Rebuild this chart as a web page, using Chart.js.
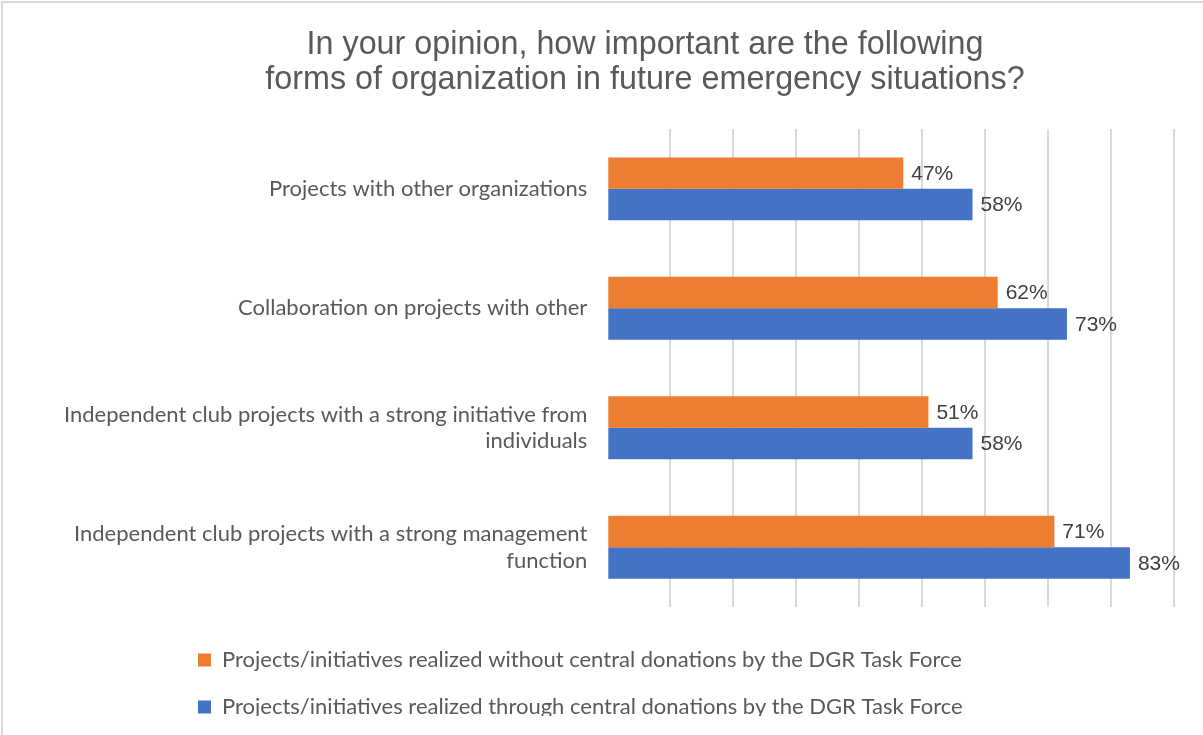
<!DOCTYPE html>
<html>
<head>
<meta charset="utf-8">
<script src="https://cdn.jsdelivr.net/npm/chart.js@4.4.1/dist/chart.umd.min.js"></script>
<style>
  html, body { margin: 0; padding: 0; background: #fff; overflow: hidden; }
  #wrap { position: absolute; left: 0; top: 0; width: 1290px; height: 716px; overflow: hidden; }
  #frame { position: absolute; left: 1px; top: 1px; width: 1400px; height: 800px;
           border-left: 2px solid #d9d9d9; border-top: 2px solid #d9d9d9; pointer-events: none; }
</style>
</head>
<body>
<div id="wrap"><canvas id="chart" width="1290" height="760"></canvas></div>
<div id="frame"></div>
<script>
// categories, top to bottom
const categories = [
    'Projects with other organizations',
    'Collaboration on projects with other',
    ['Independent club projects with a strong initiative from', 'individuals'],
    ['Independent club projects with a strong management', 'function']
];
const seriesNames = [
    'Projects/initiatives realized without central donations by the DGR Task Force',
    'Projects/initiatives realized through central donations by the DGR Task Force'
];
const withoutDonations = [47, 62, 51, 71];
const throughDonations = [58, 73, 58, 83];
const xTicks = [0, 10, 20, 30, 40, 50, 60, 70, 80, 90];

const titleLines = [
    'In your opinion, how important are the following',
    'forms of organization in future emergency situations?'
];

// value labels at the end of each bar
const barLabels = {
    id: 'barLabels',
    afterDatasetsDraw(chart) {
        const ctx = chart.ctx;
        ctx.save();
        ctx.font = '21px "Liberation Sans", Arial, sans-serif';
        ctx.fillStyle = '#404040';
        ctx.textAlign = 'left';
        ctx.textBaseline = 'middle';
        chart.data.datasets.forEach((ds, i) => {
            chart.getDatasetMeta(i).data.forEach((bar, j) => {
                ctx.fillText(ds.data[j] + '%', bar.x + 8, bar.y + 1);
            });
        });
        ctx.restore();
    }
};

// title and legend are not centred on the plot in the original
const boxShift = {
    id: 'boxShift',
    afterLayout(chart) {
        const t = chart.titleBlock;
        t.left = 116;
        t.right = 1174;
        const lg = chart.legend;
        const dx = 173 - lg.left;
        lg.left += dx;
        lg.right += dx;
    }
};

const ctx = document.getElementById('chart').getContext('2d');

new Chart(ctx, {
    type: 'bar',
    data: {
        labels: categories,
        datasets: [{
            label: seriesNames[0],
            data: withoutDonations,
            backgroundColor: '#ED7D31'
        }, {
            label: seriesNames[1],
            data: throughDonations,
            backgroundColor: '#4472C4'
        }]
    },
    options: {
        indexAxis: 'y',
        responsive: false,
        animation: false,
        categoryPercentage: 0.526,
        barPercentage: 1,
        layout: { padding: { left: 20, right: 116, top: 0, bottom: 32 } },
        scales: {
            x: {
                min: 0,
                max: 90,
                afterBuildTicks: (scale) => { scale.ticks = xTicks.map(v => ({ value: v })); },
                afterFit: (scale) => { scale.height = 17; },
                ticks: { display: false },
                border: { display: false },
                grid: {
                    drawTicks: false,
                    lineWidth: 2,
                    color: (c) => c.tick && c.tick.value === 0 ? 'rgba(0,0,0,0)' : '#d9d9d9'
                }
            },
            y: {
                afterFit: (scale) => { scale.width = 587.3; },
                border: { display: false },
                grid: { display: false, drawTicks: false },
                ticks: {
                    padding: 20,
                    color: '#595959',
                    font: { family: 'Lato, "Open Sans", sans-serif', size: 22, lineHeight: 1.2 }
                }
            }
        },
        plugins: {
            title: {
                display: true,
                text: titleLines,
                color: '#595959',
                font: { family: '"Liberation Sans", Arial, sans-serif', size: 32.3, weight: 'normal', lineHeight: 1.1 },
                padding: { top: 27, bottom: 31 }
            },
            legend: {
                position: 'bottom',
                align: 'start',
                labels: {
                    boxWidth: 13,
                    boxHeight: 13,
                    padding: 25,
                    color: '#595959',
                    font: { family: 'Lato, "Open Sans", sans-serif', size: 22 }
                }
            },
            tooltip: { enabled: false }
        }
    },
    plugins: [barLabels, boxShift]
});
</script>
</body>
</html>
